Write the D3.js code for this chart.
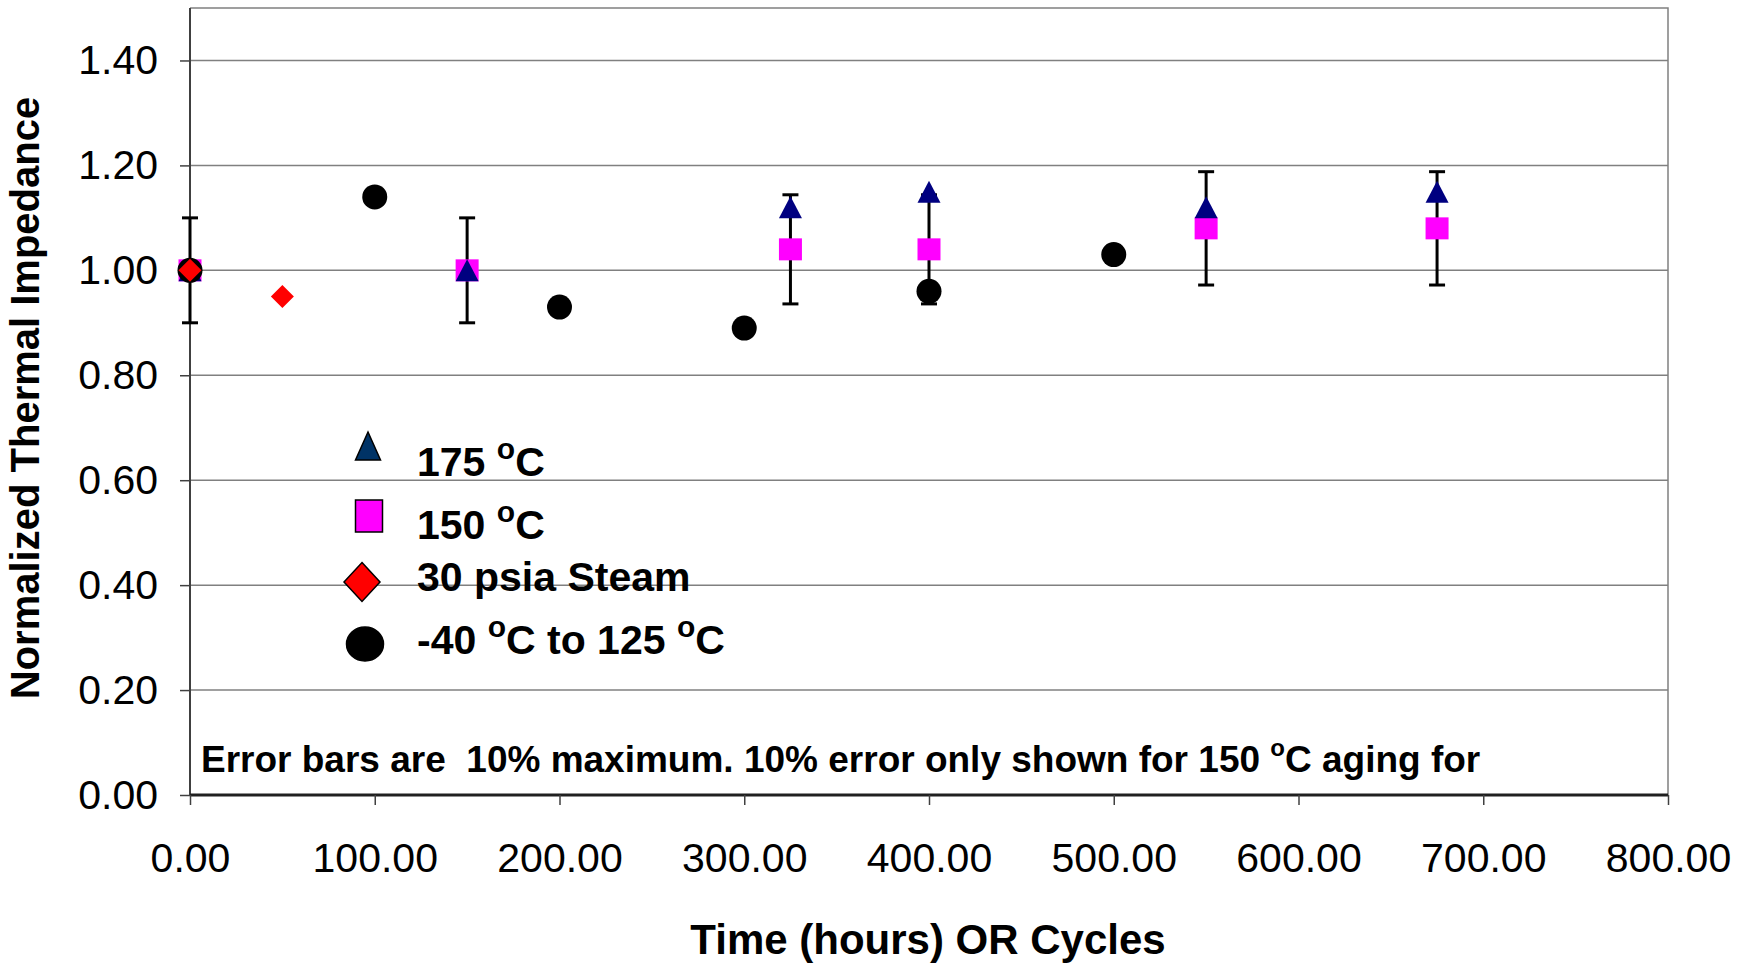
<!DOCTYPE html>
<html lang="en">
<head>
<meta charset="utf-8">
<title>Normalized Thermal Impedance</title>
<script src="https://d3js.org/d3.v7.min.js"></script>
<style>
  html, body { margin: 0; padding: 0; background: white; }
  svg { display: block; font-family: 'Liberation Sans', Arial, sans-serif; }
</style>
</head>
<body>
<div id="chart"></div>
<script>
// series data
const tempTimes = [0, 150, 325, 400, 550, 675];
const t175Values = [1.00, 1.00, 1.12, 1.15, 1.12, 1.15];
const t150Values = [1.00, 1.00, 1.04, 1.04, 1.08, 1.08];
const steamTimes = [0, 50];
const steamValues = [1.00, 0.95];
const cycleTimes = [0, 100, 200, 300, 400, 500];
const cycleValues = [1.00, 1.14, 0.93, 0.89, 0.96, 1.03];
const errorFraction = 0.10;

const xTicks = [0, 100, 200, 300, 400, 500, 600, 700, 800];
const yTicks = [0, 0.2, 0.4, 0.6, 0.8, 1.0, 1.2, 1.4];

const width = 1753, height = 966;
const plotLeft = 190, plotRight = 1668, plotBottom = 795, plotTop = 8;

const svg = d3.select("#chart").append("svg")
  .attr("width", width).attr("height", height);

const x = d3.scaleLinear().domain([0, 800]).range([plotLeft, plotRight]);
const y = d3.scaleLinear().domain([0, 1.5]).range([plotBottom, plotTop]);

// marker shapes with their own width / height (Excel markers are not equilateral)
const triShape = (w, h) => ({ draw(c) { c.moveTo(0, -h / 2); c.lineTo(w / 2, h / 2); c.lineTo(-w / 2, h / 2); c.closePath(); } });
const rectShape = (w, h) => ({ draw(c) { c.rect(-w / 2, -h / 2, w, h); } });
const diaShape = (w, h) => ({ draw(c) { c.moveTo(0, -h / 2); c.lineTo(w / 2, 0); c.lineTo(0, h / 2); c.lineTo(-w / 2, 0); c.closePath(); } });
const ellShape = (w, h) => ({ draw(c) {
  const k = 0.5523, a = w / 2, b = h / 2;
  c.moveTo(a, 0);
  c.bezierCurveTo(a, b * k, a * k, b, 0, b);
  c.bezierCurveTo(-a * k, b, -a, b * k, -a, 0);
  c.bezierCurveTo(-a, -b * k, -a * k, -b, 0, -b);
  c.bezierCurveTo(a * k, -b, a, -b * k, a, 0);
  c.closePath();
} });

// gridlines
svg.append("g").selectAll("line")
  .data(yTicks.filter(d => d > 0))
  .join("line")
  .attr("x1", plotLeft).attr("x2", plotRight)
  .attr("y1", d => y(d)).attr("y2", d => y(d))
  .attr("stroke", "#808080").attr("stroke-width", 1.5);

// frame (top, right)
svg.append("path")
  .attr("d", `M${plotLeft},${plotTop}H${plotRight}V${plotBottom}`)
  .attr("fill", "none").attr("stroke", "#808080").attr("stroke-width", 1.5);

// y axis
const yAxis = svg.append("g")
  .attr("transform", `translate(${plotLeft},0)`)
  .call(d3.axisLeft(y).tickValues(yTicks).tickFormat(d3.format(".2f")).tickSize(10).tickPadding(22));
yAxis.select(".domain").attr("stroke", "#404040").attr("stroke-width", 2).attr("d", `M0,${plotTop}V${plotBottom}`);
yAxis.selectAll(".tick line").attr("stroke", "#404040").attr("stroke-width", 1.5);
yAxis.selectAll("text").attr("font-size", 41).attr("fill", "#000")
  .attr("font-family", "'Liberation Sans', Arial, sans-serif");

// x axis
const xAxis = svg.append("g")
  .attr("transform", `translate(0,${plotBottom})`)
  .call(d3.axisBottom(x).tickValues(xTicks).tickFormat(d3.format(".2f")).tickSize(10).tickPadding(38));
xAxis.select(".domain").attr("stroke", "#202020").attr("stroke-width", 3).attr("d", `M${plotLeft},0H${plotRight}`);
xAxis.selectAll(".tick line").attr("stroke", "#404040").attr("stroke-width", 1.5);
xAxis.selectAll("text").attr("font-size", 41).attr("fill", "#000")
  .attr("font-family", "'Liberation Sans', Arial, sans-serif");

// error bars on 150 C series
const errG = svg.append("g").attr("stroke", "#000").attr("stroke-width", 3);
tempTimes.forEach((t, i) => {
  const v = t150Values[i];
  const hi = y(v * (1 + errorFraction)), lo = y(v * (1 - errorFraction));
  const cx = x(t);
  errG.append("line").attr("x1", cx).attr("x2", cx).attr("y1", hi).attr("y2", lo);
  errG.append("line").attr("x1", cx - 8).attr("x2", cx + 8).attr("y1", hi).attr("y2", hi);
  errG.append("line").attr("x1", cx - 8).attr("x2", cx + 8).attr("y1", lo).attr("y2", lo);
});

const pt = (xs, vs) => xs.map((t, i) => [t, vs[i]]);

svg.append("g").selectAll("path")
  .data(pt(tempTimes, t150Values))
  .join("path")
  .attr("d", d3.symbol().type(rectShape(23, 22)))
  .attr("transform", d => `translate(${x(d[0])},${y(d[1])})`)
  .attr("fill", "#ff00ff");

svg.append("g").selectAll("path")
  .data(pt(tempTimes, t175Values))
  .join("path")
  .attr("d", d3.symbol().type(triShape(23, 22)))
  .attr("transform", d => `translate(${x(d[0])},${y(d[1])})`)
  .attr("fill", "#000080");

svg.append("g").selectAll("path")
  .data(pt(cycleTimes, cycleValues))
  .join("path")
  .attr("d", d3.symbol().type(d3.symbolCircle).size(Math.PI * 12.5 * 12.5))
  .attr("transform", d => `translate(${x(d[0])},${y(d[1])})`)
  .attr("fill", "#000");

svg.append("g").selectAll("path")
  .data(pt(steamTimes, steamValues))
  .join("path")
  .attr("d", d3.symbol().type(diaShape(23, 23)))
  .attr("transform", d => `translate(${x(d[0])},${y(d[1])})`)
  .attr("fill", "#ff0000");

// legend
const legendItems = [
  { shape: triShape(25, 28), fill: "#003366", mx: 368, my: 446, ty: 476, parts: [["175 ", false], ["o", true], ["C", false]] },
  { shape: rectShape(27, 32), fill: "#ff00ff", mx: 369, my: 516, ty: 539, parts: [["150 ", false], ["o", true], ["C", false]] },
  { shape: diaShape(36, 39), fill: "#ff0000", mx: 362, my: 582, ty: 591, parts: [["30 psia Steam", false]] },
  { shape: ellShape(37, 34), fill: "#000", mx: 365, my: 644, ty: 654, parts: [["-40 ", false], ["o", true], ["C to 125 ", false], ["o", true], ["C", false]] }
];
const lg = svg.append("g");
legendItems.forEach(it => {
  lg.append("path")
    .attr("d", d3.symbol().type(it.shape))
    .attr("transform", `translate(${it.mx},${it.my})`)
    .attr("fill", it.fill).attr("stroke", "#000").attr("stroke-width", 1.5);
  const t = lg.append("text").attr("x", 417).attr("y", it.ty)
    .attr("font-size", 41).attr("font-weight", "bold")
    .attr("xml:space", "preserve");
  it.parts.forEach(([s, sup], k) => {
    if (sup) {
      t.append("tspan").attr("font-size", 30).attr("dy", -17).text(s);
    } else {
      const ts = t.append("tspan").text(s);
      if (k > 0) ts.attr("dy", 17);
    }
  });
});

// note
const note = svg.append("text").attr("x", 201).attr("y", 772)
  .attr("font-size", 37).attr("font-weight", "bold")
  .attr("xml:space", "preserve");
note.append("tspan").text("Error bars are  10% maximum. 10% error only shown for 150 ");
note.append("tspan").attr("font-size", 24).attr("dy", -16).text("o");
note.append("tspan").attr("dy", 16).text("C aging for");

// axis titles
svg.append("text")
  .attr("x", 928).attr("y", 954)
  .attr("text-anchor", "middle")
  .attr("font-size", 42).attr("font-weight", "bold")
  .text("Time (hours) OR Cycles");

svg.append("text")
  .attr("transform", `translate(39,398) rotate(-90)`)
  .attr("text-anchor", "middle")
  .attr("font-size", 40).attr("font-weight", "bold")
  .text("Normalized Thermal Impedance");
</script>
</body>
</html>
